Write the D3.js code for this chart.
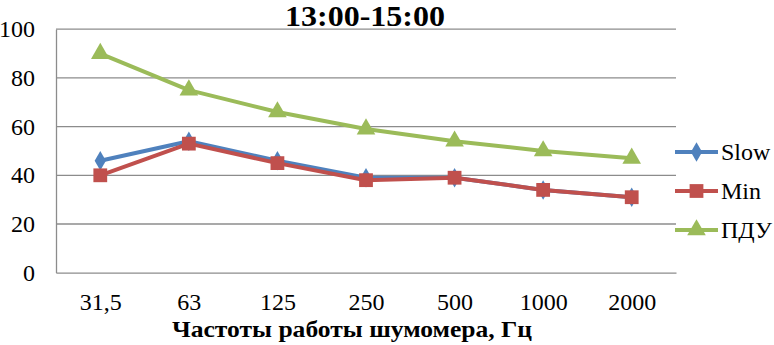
<!DOCTYPE html>
<html><head><meta charset="utf-8">
<script src="https://cdn.jsdelivr.net/npm/d3@7"></script>
<style>svg text{font-family:"Liberation Serif","Times New Roman",Tinos !important;}</style>
</head><body style="margin:0">
<svg id="c" width="774" height="345" style="display:block"></svg>
<script>
const categories = ["31,5","63","125","250","500","1000","2000"];
const slowValues = [46,54,46,39,39,34,31];
const minValues  = [40,53,45,38,39,34,31];
const pduValues  = [90,75,66,59,54,50,47];
const yTicks = [0,20,40,60,80,100];
const seriesNames = ["Slow","Min","ПДУ"];
const titleText = "13:00-15:00";
const xTitleText = "Частоты работы шумомера, Гц";

const series = [
  {name: seriesNames[0], values: slowValues, color: "#4F81BD", shape: d3.symbolDiamond, size: 110},
  {name: seriesNames[1], values: minValues,  color: "#C0504D", shape: d3.symbolSquare, size: 190},
  {name: seriesNames[2], values: pduValues,  color: "#9BBB59", shape: d3.symbolTriangle, size: 150}
];

const svg = d3.select("#c");
const L = 56, R = 676, T = 29.2, B = 272.7;
const x = d3.scalePoint().domain(categories).range([L, R]).padding(0.5);
const y = d3.scaleLinear().domain([0, 100]).range([B, T]);

function serif(sel) { return sel.style("font-family", "\"Liberation Serif\", \"Times New Roman\", Tinos", "important"); }

// gridlines
svg.append("g").selectAll("line").data(yTicks.filter(d => d > 0)).join("line")
  .attr("x1", L).attr("x2", R).attr("y1", d => y(d)).attr("y2", d => y(d))
  .attr("stroke", "#8c8c8c").attr("stroke-width", 1.3);

// axes
const yAxis = d3.axisLeft(y).tickValues(yTicks).tickSize(0).tickPadding(21);
const gy = svg.append("g").attr("transform", `translate(${L},0)`).call(yAxis);
gy.attr("font-family", null).attr("font-size", null);
gy.select(".domain").attr("stroke", "#8c8c8c").attr("stroke-width", 1.3);
serif(gy.selectAll("text")).attr("font-size", 24).attr("fill", "#000");

const xAxis = d3.axisBottom(x).tickSize(0).tickPadding(20);
const gx = svg.append("g").attr("transform", `translate(0,${B})`).call(xAxis);
gx.attr("font-family", null).attr("font-size", null);
gx.select(".domain").attr("stroke", "#8c8c8c").attr("stroke-width", 1.3);
serif(gx.selectAll("text")).attr("font-size", 24).attr("fill", "#000");

// lines
const line = d3.line().x((d, i) => x(categories[i])).y(d => y(d));
series.forEach(s => {
  svg.append("path").datum(s.values).attr("d", line)
    .attr("fill", "none").attr("stroke", s.color).attr("stroke-width", 4).attr("stroke-linejoin", "round");
  svg.append("g").selectAll("path").data(s.values).join("path")
    .attr("d", d3.symbol().type(s.shape).size(s.size))
    .attr("transform", (d, i) => `translate(${x(categories[i])},${y(d)})`)
    .attr("fill", s.color);
});

// title
serif(svg.append("text")).attr("x", 365).attr("y", 26).attr("text-anchor", "middle")
  .attr("font-size", 29).attr("font-weight", "bold")
  .attr("textLength", 160).attr("lengthAdjust", "spacingAndGlyphs").text(titleText);

// x axis title
serif(svg.append("text")).attr("x", 352).attr("y", 337).attr("text-anchor", "middle")
  .attr("font-size", 23).attr("font-weight", "bold")
  .attr("textLength", 360).attr("lengthAdjust", "spacingAndGlyphs").text(xTitleText);

// legend
const legY = [152, 191, 230];
series.forEach((s, i) => {
  const g = svg.append("g").attr("transform", `translate(0,${legY[i]})`);
  g.append("line").attr("x1", 675).attr("x2", 718).attr("y1", 0).attr("y2", 0)
    .attr("stroke", s.color).attr("stroke-width", 4);
  g.append("path").attr("d", d3.symbol().type(s.shape).size(s.size))
    .attr("transform", "translate(696.5,0)").attr("fill", s.color);
  serif(g.append("text")).attr("x", 721).attr("y", 8).attr("font-size", 24).text(s.name);
});
</script>
</body></html>
